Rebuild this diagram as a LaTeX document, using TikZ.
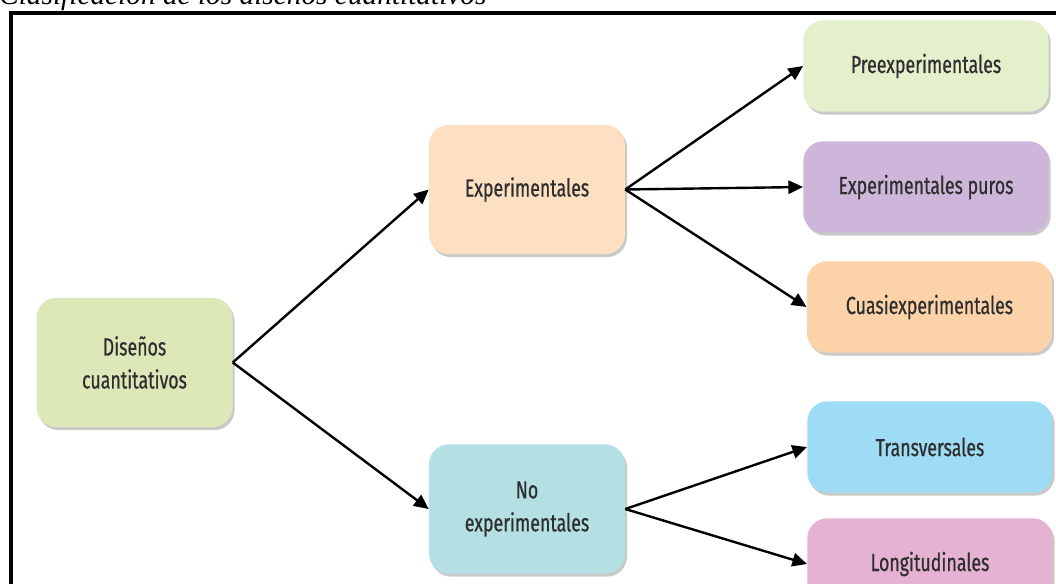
\documentclass[tikz,border=0pt]{standalone}
\usepackage{fontspec}
\setmainfont{Liberation Serif}
\newfontfamily\cajafont[FakeStretch=0.72, FakeBold=0.7]{Fira Sans}
\usepackage{tikz}
\usetikzlibrary{positioning, arrows.meta, shadows}

\definecolor{verderaiz}{HTML}{DDE8B8}
\definecolor{durazno}{HTML}{FDDFC2}
\definecolor{turquesa}{HTML}{B4E0E4}
\definecolor{verdepre}{HTML}{E4EFCB}
\definecolor{lavanda}{HTML}{CDB6D9}
\definecolor{naranja}{HTML}{FCD3A8}
\definecolor{celeste}{HTML}{9EDBF5}
\definecolor{rosa}{HTML}{E6B2D3}
\definecolor{texto}{HTML}{2E2E2E}

\tikzset{
    caja/.style={rounded corners=15pt, inner sep=0pt, align=center, text=texto,
        font=\cajafont\fontsize{18.5}{24.75}\selectfont,
        drop shadow={shadow xshift=1.5pt, shadow yshift=-2.2pt, opacity=0.3, fill=black!70}},
    grande/.style={caja, minimum width=147pt, minimum height=97pt},
    chica/.style={caja, minimum width=184pt, minimum height=68.5pt},
    flecha/.style={-{Triangle[length=11pt, width=10pt]}, line width=1.8pt, black}
}

\begin{document}
\begin{tikzpicture}[x=0.75pt, y=-0.75pt]
            \clip (0,0) rectangle (1056,583);
            \node[anchor=base west, inner sep=0pt, font=\itshape\fontsize{22}{26}\selectfont] (titulo) at (-1,4.5) {Clasificación de los diseños cuantitativos};
            \draw[line width=2.4pt] (11,600) -- (11,13) -- (1070,13);

            \node[grande, fill=verderaiz] (dis) at (134.5,362.5) {Diseños\\cuantitativos};
            \node[grande, fill=durazno] (exp) at (527,189.5) {Experimentales};
            \node[grande, fill=turquesa] (noexp) at (527,509) {No\\experimentales};
            \node[chica, fill=verdepre] (pre) at (926,66) {Preexperimentales};
            \node[chica, fill=lavanda] (puros) at (926,187) {Experimentales puros};
            \node[chica, fill=naranja] (cuasi) at (929.5,307) {Cuasiexperimentales};
            \node[chica, fill=celeste] (trans) at (930,447) {Transversales};
            \node[chica, fill=rosa] (longi) at (930,564) {Longitudinales};

            \path[flecha]
            (dis.east) edge (exp.west)
            (dis.east) edge (noexp.west)
            (exp.east) edge (pre.west)
            (exp.east) edge (puros.west)
            (exp.east) edge (cuasi.west)
            (noexp.east) edge (trans.west)
            (noexp.east) edge (longi.west)
            ;
        \end{tikzpicture}
\end{document}
